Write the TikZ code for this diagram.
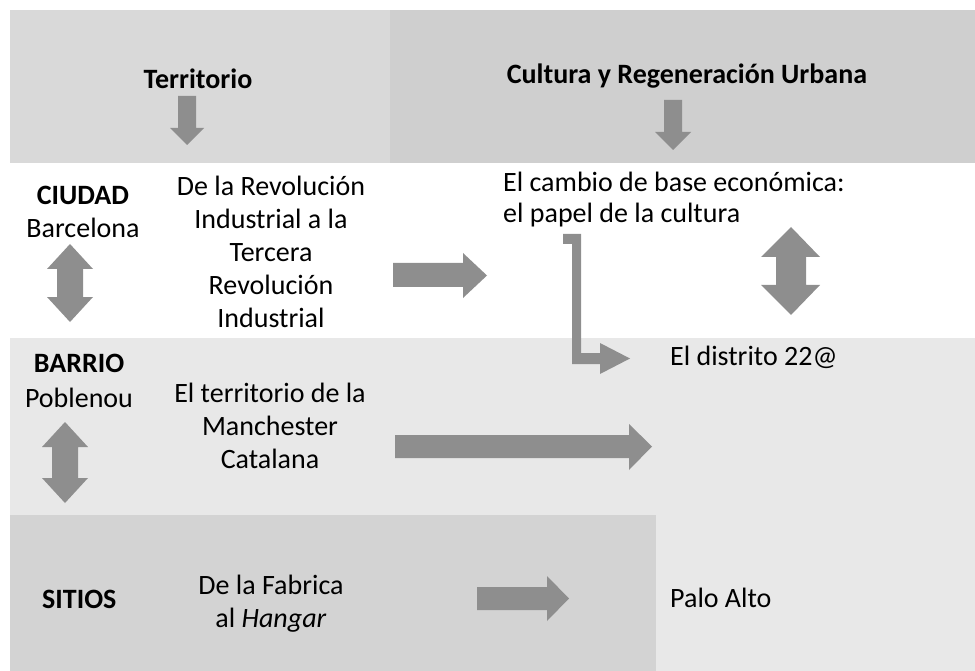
\documentclass[tikz,border=0pt]{standalone}
\usepackage{fontspec}
\setmainfont{Carlito}

\definecolor{hdrleft}{HTML}{D9D9D9}
\definecolor{hdrright}{HTML}{CFCFCF}
\definecolor{rowtwo}{HTML}{E8E8E8}
\definecolor{rowthree}{HTML}{D3D3D3}
\definecolor{arrowgray}{HTML}{8E8E8E}

\tikzset{
    txt/.style={font=\fontsize{28}{33}\selectfont, inner sep=0pt, align=center, anchor=base},
    hdr/.style={txt, font=\fontsize{28}{33}\selectfont\bfseries},
    lefttxt/.style={txt, align=left, anchor=base west},
    blockarrow/.style={fill=arrowgray, draw=none},
}

\begin{document}
\begin{tikzpicture}[x=1pt, y=-1pt]
    \useasboundingbox (0,0) rectangle (975,671);

    % Bands
    \fill[hdrleft] (10,10) rectangle (390,163);
    \fill[hdrright] (390,10) rectangle (975,163);
    \fill[rowtwo] (10,338) rectangle (975,671);
    \fill[rowthree] (10,515) rectangle (656,671);

    % Headers
    \node[hdr] (terr) at (198,89) {Territorio};
    \node[hdr] (cult) at (687,84) {Cultura y Regeneración Urbana};
    \fill[blockarrow] (178,96) -- (196,96) -- (196,128) -- (204,128) -- (187,145)
        -- (170,128) -- (178,128) -- cycle;
    \fill[blockarrow] (664,100) -- (682,100) -- (682,132) -- (691,132) -- (673,150)
        -- (655,132) -- (664,132) -- cycle;

    % Row 1: Ciudad
    \node[hdr] (ciudad) at (83,205) {CIUDAD};
    \node[txt] (bcn) at (83,238) {Barcelona};
    \fill[blockarrow] (70,244) -- (93,269) -- (83,269) -- (83,297) -- (93,297) -- (70,322)
        -- (47,297) -- (57,297) -- (57,269) -- (47,269) -- cycle;
    \node[txt] (revol) at (271,327) {De la Revolución\\Industrial a la\\Tercera\\Revolución\\Industrial};
    \fill[blockarrow] (393,263) -- (463,263) -- (463,253) -- (487,275.5) -- (463,298)
        -- (463,287) -- (393,287) -- cycle;
    \node[lefttxt] (cambio) at (503,192) {El cambio de base económica:};
    \node[lefttxt] (papel) at (503,223) {el papel de la cultura};
    \fill[blockarrow] (791,227) -- (820,257) -- (806,257) -- (806,285) -- (820,285) -- (791,315)
        -- (761,285) -- (776,285) -- (776,257) -- (761,257) -- cycle;
    \fill[blockarrow] (563,234) -- (581,234) -- (581,353) -- (600,353) -- (600,343)
        -- (630,358.5) -- (600,374) -- (600,364) -- (572,364) -- (572,244) -- (563,244) -- cycle;

    % Row 2: Barrio
    \node[hdr] (barrio) at (79,372) {BARRIO};
    \node[txt] (poble) at (79,407) {Poblenou};
    \fill[blockarrow] (65,422) -- (88,447) -- (78,447) -- (78,478) -- (88,478) -- (65,503)
        -- (42,478) -- (52,478) -- (52,447) -- (42,447) -- cycle;
    \node[txt] (manch) at (270,468) {El territorio de la\\Manchester\\Catalana};
    \fill[blockarrow] (395,435) -- (629,435) -- (629,424) -- (652,446.5) -- (629,470)
        -- (629,458) -- (395,458) -- cycle;
    \node[lefttxt] (distrito) at (670,365) {El distrito 22@};

    % Row 3: Sitios
    \node[hdr, anchor=base west] (sitios) at (42,608) {SITIOS};
    \node[txt] (fabrica) at (271,627) {De la Fabrica\\al \textit{Hangar}};
    \fill[blockarrow] (477,587) -- (547,587) -- (547,576) -- (569,598.5) -- (547,621)
        -- (547,610) -- (477,610) -- cycle;
    \node[lefttxt] (palo) at (670,607) {Palo Alto};
\end{tikzpicture}
\end{document}
